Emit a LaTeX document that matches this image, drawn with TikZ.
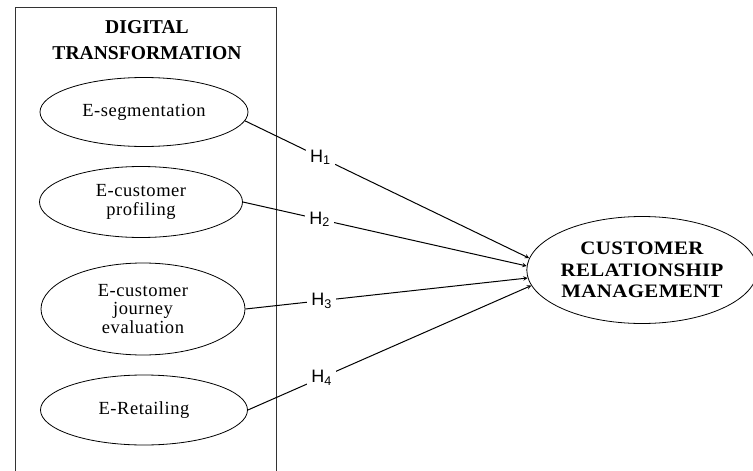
\documentclass[tikz,border=0pt]{standalone}
\usepackage{fontspec}
\setmainfont{Liberation Serif}
\setsansfont{Liberation Sans}
\newfontfamily\spacedserif[LetterSpace=3]{Liberation Serif}
\newfontfamily\widebold[FakeStretch=1.1, LetterSpace=2]{Liberation Serif}
\usetikzlibrary{shapes.geometric, arrows}
\tikzstyle{heading} = [align=center, font=\bfseries\fontsize{19.6}{26}\selectfont]
\tikzstyle{factor} = [ellipse, draw, line width=0.8pt, inner sep=0pt, text centered, align=center, font=\spacedserif\fontsize{18.5}{18.5}\selectfont]
\tikzstyle{outcome} = [ellipse, draw, line width=0.8pt, inner sep=0pt, minimum width=220, minimum height=107, text centered, align=center, font=\widebold\bfseries\fontsize{19}{21.5}\selectfont]
\tikzstyle{hyp} = [fill=white, inner sep=4pt, font=\sffamily\fontsize{18}{18}\selectfont]
\tikzstyle{arrow} = [line width=1pt,->,>=stealth]
\begin{document}
\begin{tikzpicture}[x=1pt,y=-1pt]
            \useasboundingbox (0,0) rectangle (753,471);
            \draw [black!80, line width=0.8pt] (15,471) -- (15,7) -- (276,7) -- (276,471);
            \node [heading] at (147,40) (dt) {DIGITAL\\TRANSFORMATION};
            \node [factor, minimum width=208, minimum height=69] at (144,112) (seg) {E-segmentation};
            \node [factor, minimum width=203, minimum height=71] at (141,202) (prof) {E-customer\\profiling};
            \node [factor, minimum width=204, minimum height=92] at (143,309) (jour) {E-customer\\journey\\evaluation};
            \node [factor, minimum width=207, minimum height=70] at (144,410) (ret) {E-Retailing};
            \node [outcome] at (642,270) (crm) {CUSTOMER\\RELATIONSHIP\\MANAGEMENT};

            \draw [arrow] (seg.-5) -- node[hyp, pos=0.265] {H\textsubscript{1}} (crm.174);
            \draw [arrow] (prof.east) -- node[hyp, pos=0.27] {H\textsubscript{2}} (crm.178);
            \draw [arrow] (jour.east) -- node[hyp, pos=0.27] {H\textsubscript{3}} (crm.184);
            \draw [arrow] (ret.east) -- node[hyp, pos=0.26] {H\textsubscript{4}} (crm.188);
            \end{tikzpicture}
\end{document}
